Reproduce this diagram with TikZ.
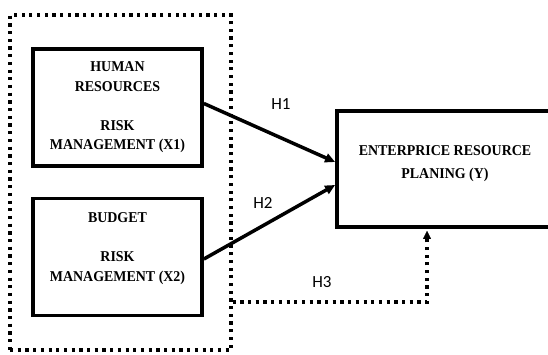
\documentclass[tikz,border=0pt]{standalone}
\usepackage{fontspec}
\setmainfont[FakeStretch=0.93]{Liberation Serif}
\newfontfamily\labelfont{Carlito}
\usetikzlibrary{arrows.meta, positioning, calc}

\begin{document}
\begin{tikzpicture}[x=1pt, y=1pt, >={Triangle[length=10pt, width=9pt]},
    riskbox/.style={draw, line width=3.8pt, minimum width=169pt, minimum height=117pt, inner sep=0pt, align=center, font=\fontsize{15}{19.5}\selectfont\bfseries},
    dotline/.style={line width=3.2pt, dash pattern=on 3.2pt off 4.5pt},
    hlabel/.style={font=\labelfont\fontsize{17}{20}\selectfont, inner sep=0pt}]
    \useasboundingbox (0, 0) rectangle (548, 354);

    \node[draw, dotline, minimum width=221pt, minimum height=335pt, inner sep=0pt] (OuterGroup) at (120.5, 171.5) {};

    \node[riskbox] (HumanRisk) at (117.5, 246.5) {HUMAN\\RESOURCES\\[19.5pt]RISK\\MANAGEMENT (X1)};
    \node[riskbox] (BudgetRisk) at (117.5, 97) {BUDGET\\[19.5pt]RISK\\MANAGEMENT (X2)\\\mbox{}};

    \node[draw, line width=3.8pt, minimum width=216pt, minimum height=116pt, inner sep=0pt, align=center, font=\fontsize{15}{23}\selectfont\bfseries] (ErpBox) at (445, 185) {ENTERPRICE RESOURCE\\PLANING (Y)\\[-9pt]\mbox{}};

    \draw[->, line width=3.5pt] ([yshift=4pt]HumanRisk.east) -- ([yshift=7pt]ErpBox.west);
    \draw[->, line width=3.5pt] ([yshift=-2pt]BudgetRisk.east) -- ([yshift=-16pt]ErpBox.west);

    \coordinate (H3Bend) at (427, 52);
    \draw[dotline] (OuterGroup.east |- H3Bend) -- (H3Bend) -- ([yshift=-9pt]H3Bend |- ErpBox.south);
    \draw[-{Triangle[length=8pt, width=8pt]}, line width=0.1pt] ([yshift=-10pt]H3Bend |- ErpBox.south) -- ([yshift=-2pt]H3Bend |- ErpBox.south);

    \node[hlabel] (LabelH1) at (281, 250) {H1};
    \node[hlabel] (LabelH2) at (263, 151) {H2};
    \node[hlabel] (LabelH3) at (322, 72) {H3};
\end{tikzpicture}
\end{document}
